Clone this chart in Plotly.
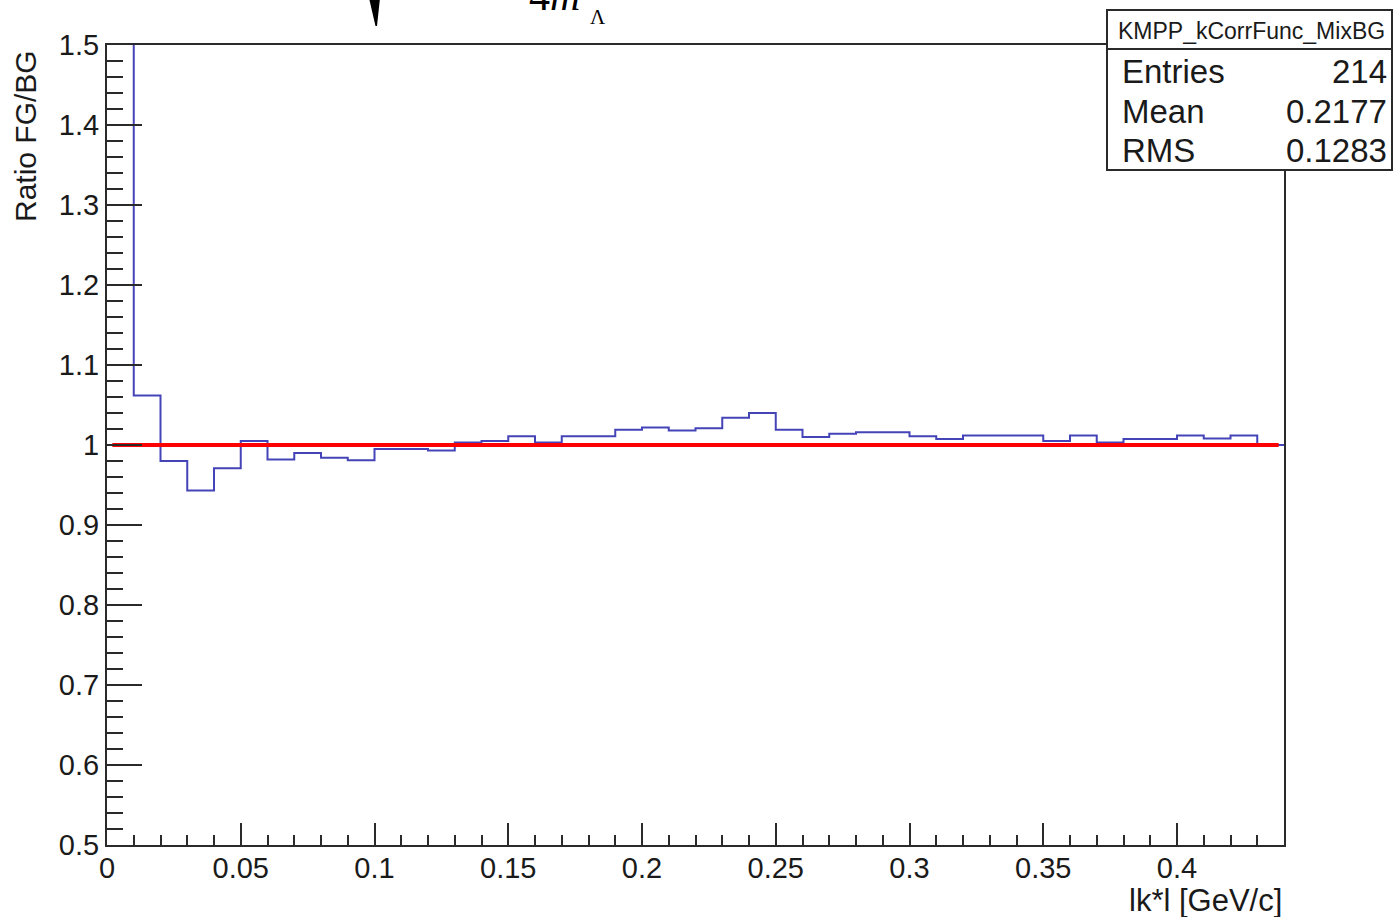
import plotly.graph_objects as go

# ---- data ----
bin_edges = [round(i * 0.01, 2) for i in range(45)]
ratio_values = [2.0, 1.062, 0.980, 0.943, 0.971, 1.005, 0.982, 0.990, 0.984, 0.981,
                0.995, 0.995, 0.993, 1.003, 1.005, 1.011, 1.003, 1.011, 1.011, 1.019,
                1.022, 1.018, 1.021, 1.034, 1.040, 1.019, 1.010, 1.014, 1.016, 1.016,
                1.011, 1.0075, 1.012, 1.012, 1.012, 1.005, 1.012, 1.003, 1.0075, 1.0075,
                1.012, 1.008, 1.012, 1.000]
fit_x = [0.002, 0.438]
fit_y = [1.0, 1.0]
x_tickvals = [0, 0.05, 0.1, 0.15, 0.2, 0.25, 0.3, 0.35, 0.4]
x_ticktext = ["0", "0.05", "0.1", "0.15", "0.2", "0.25", "0.3", "0.35", "0.4"]
y_tickvals = [0.5, 0.6, 0.7, 0.8, 0.9, 1.0, 1.1, 1.2, 1.3, 1.4, 1.5]
y_ticktext = ["0.5", "0.6", "0.7", "0.8", "0.9", "1", "1.1", "1.2", "1.3", "1.4", "1.5"]
stats_title = "KMPP_kCorrFunc_MixBG"
stats_labels = ["Entries", "Mean", "RMS"]
stats_values = ["214", "0.2177", "0.1283"]

W, H = 1393, 917
L, R, T, B = 107, 109, 45, 72
PW, PH = W - L - R, H - T - B


def X(px):
    return (px - L) / PW


def Y(py):
    return (H - B - py) / PH


step_x = bin_edges
step_y = ratio_values + [ratio_values[-1]]

fig = go.Figure()
fig.add_trace(go.Scatter(x=step_x, y=step_y, mode="lines", line_shape="hv",
                         line=dict(color="#4444b8", width=2), hoverinfo="skip"))
fig.add_trace(go.Scatter(x=fit_x, y=fit_y, mode="lines",
                         line=dict(color="#ff0000", width=4), hoverinfo="skip"))

font_axis = dict(family="Liberation Sans, Arial, sans-serif", size=29, color="#1a1a1a")

fig.update_xaxes(range=[0, 0.44], showgrid=False, zeroline=False,
                 showline=True, linecolor="#2a2a2a", linewidth=2, mirror=True,
                 ticks="inside", ticklen=22, tickwidth=2, tickcolor="#2a2a2a",
                 tickvals=x_tickvals, ticktext=x_ticktext, tickfont=font_axis,
                 ticklabelstandoff=-4,
                 minor=dict(dtick=0.01, tick0=0, ticks="inside", ticklen=10,
                            tickwidth=2, tickcolor="#2a2a2a", showgrid=False))
fig.update_yaxes(range=[0.5, 1.5], showgrid=False, zeroline=False,
                 showline=True, linecolor="#2a2a2a", linewidth=2, mirror=True,
                 ticks="inside", ticklen=35, tickwidth=2, tickcolor="#2a2a2a",
                 tickvals=y_tickvals, ticktext=y_ticktext, tickfont=font_axis,
                 minor=dict(dtick=0.02, tick0=0.5, ticks="inside", ticklen=16,
                            tickwidth=2, tickcolor="#2a2a2a", showgrid=False))

annotations = [
    dict(x=X(1284), y=Y(900), xref="paper", yref="paper", xanchor="right", yanchor="middle",
         text="lk*l [GeV/c]", showarrow=False, font=dict(family=font_axis["family"], size=31, color="#1a1a1a")),
    dict(x=X(25), y=Y(48), xref="paper", yref="paper", xanchor="center", yanchor="top",
         text="Ratio FG/BG", textangle=-90, showarrow=False,
         font=dict(family=font_axis["family"], size=30, color="#1a1a1a")),
    dict(x=X(1251), y=Y(31), xref="paper", yref="paper", xanchor="center", yanchor="middle",
         text=stats_title, showarrow=False, font=dict(family=font_axis["family"], size=23, color="#1a1a1a")),
    # formula fragment at top (cut off by the top edge, as in the reference)
    dict(x=X(582), y=Y(21), xref="paper", yref="paper", xanchor="right", yanchor="bottom",
         text="4<i>m</i>", showarrow=False,
         font=dict(family="Liberation Serif, Times New Roman, serif", size=42, color="#000")),
    dict(x=X(598), y=Y(17), xref="paper", yref="paper", xanchor="center", yanchor="middle",
         text="Λ", showarrow=False,
         font=dict(family="Liberation Serif, Times New Roman, serif", size=21, color="#000")),
]
stat_ys = [72, 111, 150]
for lab, val, sy in zip(stats_labels, stats_values, stat_ys):
    annotations.append(dict(x=X(1120), y=Y(sy), xref="paper", yref="paper", xanchor="left",
                            yanchor="middle", text=lab, showarrow=False,
                            font=dict(family=font_axis["family"], size=33, color="#1a1a1a")))
    annotations.append(dict(x=X(1389), y=Y(sy), xref="paper", yref="paper", xanchor="right",
                            yanchor="middle", text=val, showarrow=False,
                            font=dict(family=font_axis["family"], size=33, color="#1a1a1a")))

shapes = [
    dict(type="rect", xref="paper", yref="paper", x0=X(1107), x1=X(1392), y0=Y(170), y1=Y(10),
         fillcolor="white", line=dict(color="#2a2a2a", width=2), layer="above"),
    dict(type="line", xref="paper", yref="paper", x0=X(1107), x1=X(1392), y0=Y(49), y1=Y(49),
         line=dict(color="#2a2a2a", width=2), layer="above"),
    dict(type="path", xref="paper", yref="paper",
         path=f"M {X(369)} {Y(-2)} L {X(380)} {Y(-2)} L {X(377)} {Y(26)} L {X(375.5)} {Y(26)} Z",
         fillcolor="black", line=dict(color="black", width=0), layer="above"),
]

fig.update_layout(width=W, height=H, margin=dict(l=L, r=R, t=T, b=B),
                  paper_bgcolor="white", plot_bgcolor="white", showlegend=False,
                  annotations=annotations, shapes=shapes)

fig.write_html("out.html")
